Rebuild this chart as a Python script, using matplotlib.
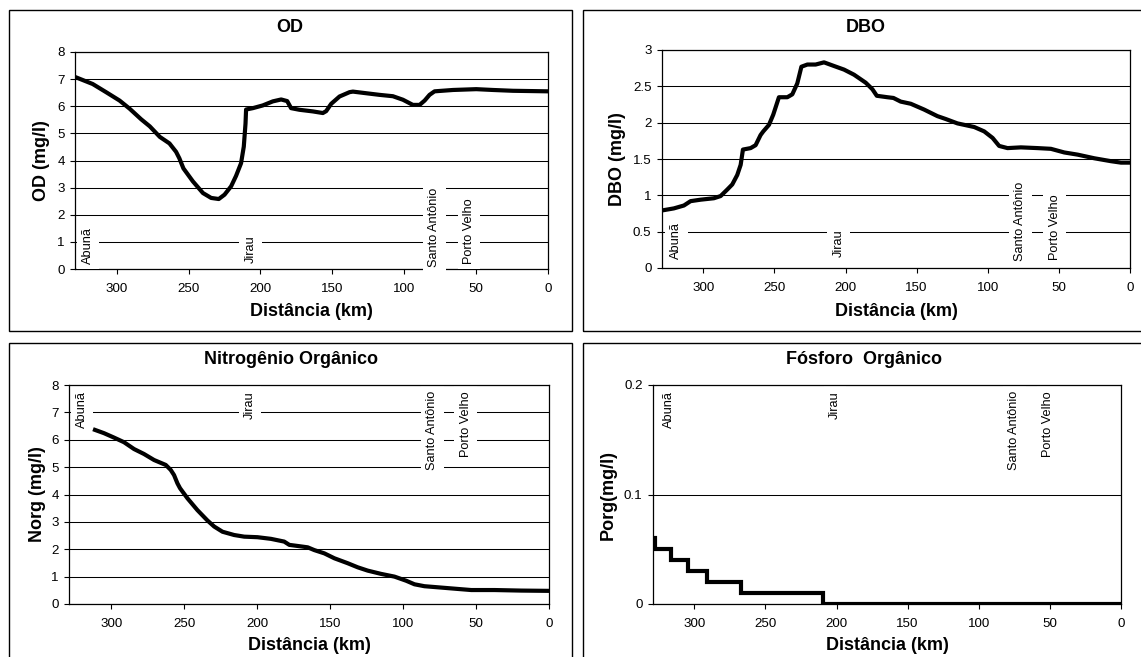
import matplotlib
matplotlib.use("Agg")
import matplotlib.pyplot as plt
from matplotlib.patches import Rectangle
from matplotlib.ticker import FuncFormatter, MultipleLocator

plt.rcParams['font.family'] = ['Liberation Sans', 'DejaVu Sans']

# ---------------- data ----------------
stations = ["Abunã", "Jirau", "Santo Antônio", "Porto Velho"]

od_km = [329, 316.7, 307.4, 298, 291, 283, 277, 270, 263.3, 258.7, 256.4, 253.6, 247, 240,
         234.3, 229, 225, 220.4, 217, 213.5, 211.6, 210.4, 210, 205.3, 198.4, 191.4, 185.6,
         181.4, 178.7, 172.9, 163.6, 156.6, 154.3, 150.8, 145, 138, 135.7, 126.5, 117.2,
         107.9, 100.9, 94, 89.3, 85.8, 82.4, 78.9, 66.1, 49.9, 38.3, 24.4, 0]
od_val = [7.08, 6.82, 6.52, 6.21, 5.91, 5.52, 5.26, 4.87, 4.63, 4.32, 4.08, 3.71, 3.23, 2.80,
          2.62, 2.58, 2.74, 3.05, 3.43, 3.90, 4.51, 5.36, 5.88, 5.93, 6.03, 6.18, 6.25,
          6.19, 5.93, 5.87, 5.81, 5.75, 5.82, 6.09, 6.36, 6.52, 6.54, 6.48, 6.42,
          6.37, 6.24, 6.05, 6.05, 6.21, 6.42, 6.55, 6.60, 6.63, 6.60, 6.57, 6.55]

dbo_km = [329.6, 320.7, 313.6, 308.9, 301.9, 292.5, 287.8, 283.1, 279.6, 276.1, 273.7, 272.1,
          266.7, 263.2, 259.7, 257.8, 253.8, 250.8, 246.8, 240.9, 237.4, 233.9, 231, 226.8,
          221, 215.1, 208.1, 201, 194, 185.8, 181.1, 178, 170.5, 166.3, 161.2, 154.1, 144.7,
          135.4, 129.5, 121.3, 109.5, 102.5, 96.6, 92, 86.1, 76.7, 65, 55.6, 46.2, 36.8,
          25.1, 13.4, 6.3, 0]
dbo_val = [0.79, 0.82, 0.86, 0.92, 0.94, 0.96, 0.99, 1.08, 1.15, 1.28, 1.42, 1.63,
           1.65, 1.69, 1.83, 1.88, 1.97, 2.11, 2.35, 2.35, 2.39, 2.54, 2.77, 2.80,
           2.80, 2.83, 2.78, 2.73, 2.66, 2.55, 2.46, 2.37, 2.35, 2.34, 2.29, 2.26, 2.18,
           2.09, 2.05, 1.99, 1.94, 1.88, 1.79, 1.68, 1.65, 1.66, 1.65, 1.64, 1.59, 1.56,
           1.51, 1.47, 1.45, 1.45]

norg_km = [311.2, 305, 298.2, 291.3, 284.4, 277.6, 270.7, 262.7, 259.3, 257, 254.7, 252.9,
           247.8, 241, 234.1, 229.5, 223.8, 215.8, 208.9, 199.8, 190.6, 181.5, 178, 172.3,
           165.4, 160.9, 154, 147.1, 138, 131.1, 124.3, 115.1, 105.9, 97.9, 92.2, 85.4,
           76.2, 64.8, 53.3, 37.3, 19, 0]
norg_val = [6.36, 6.24, 6.08, 5.91, 5.66, 5.48, 5.26, 5.08, 4.90, 4.71, 4.41, 4.23,
            3.86, 3.43, 3.05, 2.83, 2.64, 2.52, 2.46, 2.44, 2.38, 2.28, 2.16, 2.12,
            2.07, 1.97, 1.85, 1.67, 1.49, 1.34, 1.22, 1.10, 1.00, 0.85, 0.72, 0.65,
            0.61, 0.56, 0.51, 0.51, 0.49, 0.48]

porg_km = [329, 327.5, 316.5, 304.5, 291, 267, 209.5, 0]
porg_val = [0.06, 0.05, 0.04, 0.03, 0.02, 0.01, 0.0, 0.0]

# station label positions (km) and vertical anchor (data units) per panel
od_lab_km = [320, 207, 79, 55]
od_lab_y = [0.18, 0.22, 0.07, 0.18]
dbo_lab_km = [319, 205, 77, 53]
dbo_lab_y = [0.13, 0.15, 0.10, 0.11]
norg_lab_km = [320, 205, 80, 57]
norg_lab_y = [7.78, 7.78, 7.78, 7.78]
porg_lab_km = [318, 201, 75, 51]
porg_lab_y = [0.1945, 0.1945, 0.1945, 0.1945]

# ---------------- figure ----------------
W, H = 1141, 657
fig = plt.figure(figsize=(W / 100, H / 100), dpi=100)


def fx(px):
    return px / W


def fy(py):
    return 1 - py / H


# panel frames
for (x0, y0, x1, y1) in [(9, 10, 572, 331), (583, 10, 1160, 331),
                         (9, 343, 572, 680), (583, 343, 1160, 680)]:
    fig.patches.append(Rectangle((fx(x0), fy(y1)), fx(x1 - x0), (y1 - y0) / H,
                                 transform=fig.transFigure, fill=False,
                                 edgecolor='black', linewidth=1.0))

fmt = FuncFormatter(lambda v, p: "%g" % round(v, 3))


def panel(box, title, title_xy, ylabel, ylabel_x, xlabel_y, xs, ys, ymax, ystep,
          lab_km, lab_y, lab_va, step=False):
    l, t, r, b = box
    ax = fig.add_axes([fx(l), fy(b), fx(r - l), (b - t) / H])
    ax.set_xlim(329, 0)
    ax.set_ylim(0, ymax)
    ax.xaxis.set_major_locator(MultipleLocator(50))
    ax.yaxis.set_major_locator(MultipleLocator(ystep))
    ax.yaxis.set_major_formatter(fmt)
    ax.grid(axis='y', color='black', linewidth=0.75)
    ax.set_axisbelow(True)
    for s in ax.spines.values():
        s.set_linewidth(0.9)
        s.set_color('black')
    ax.spines['top'].set_zorder(5)
    ax.spines['right'].set_zorder(5)
    ax.spines['left'].set_zorder(5)
    ax.tick_params(direction='out', length=3.5, width=0.8, labelsize=9.6,
                   colors='black')
    ax.tick_params(axis='x', pad=6.5)
    ax.tick_params(axis='y', pad=4)
    if step:
        ax.plot(xs, ys, color='black', linewidth=3, drawstyle='steps-post', zorder=6,
                solid_joinstyle='miter')
    else:
        ax.plot(xs, ys, color='black', linewidth=3, zorder=6)
    for name, k, y in zip(stations, lab_km, lab_y):
        ax.text(k, y, name, rotation=90, ha='center', va=lab_va, fontsize=9.2,
                zorder=4, bbox=dict(boxstyle='square,pad=0.42', facecolor='white',
                                    edgecolor='none'))
    fig.text(fx(title_xy[0]), fy(title_xy[1]), title, ha='center', va='center',
             fontsize=13, fontweight='bold')
    fig.text(fx(ylabel_x), fy((t + b) / 2), ylabel, ha='center', va='center',
             rotation=90, fontsize=13, fontweight='bold')
    fig.text(fx((l + r) / 2), fy(xlabel_y), "Distância (km)", ha='center',
             va='center', fontsize=13, fontweight='bold')
    return ax


panel((75, 52, 548, 269), "OD", (290, 27), "OD (mg/l)", 42, 312,
      od_km, od_val, 8, 1, od_lab_km, od_lab_y, 'bottom')
panel((662, 50, 1130, 268), "DBO", (866, 27), "DBO (mg/l)", 617, 312,
      dbo_km, dbo_val, 3, 0.5, dbo_lab_km, dbo_lab_y, 'bottom')
panel((69, 385, 549, 604), "Nitrogênio Orgânico", (291, 360), "Norg (mg/l)", 38, 645,
      norg_km, norg_val, 8, 1, norg_lab_km, norg_lab_y, 'top')
panel((653, 385, 1121, 604), "Fósforo  Orgânico", (864, 360), "Porg(mg/l)", 608, 645,
      porg_km, porg_val, 0.2, 0.1, porg_lab_km, porg_lab_y, 'top', step=True)

fig.savefig("out.png", dpi=100)
